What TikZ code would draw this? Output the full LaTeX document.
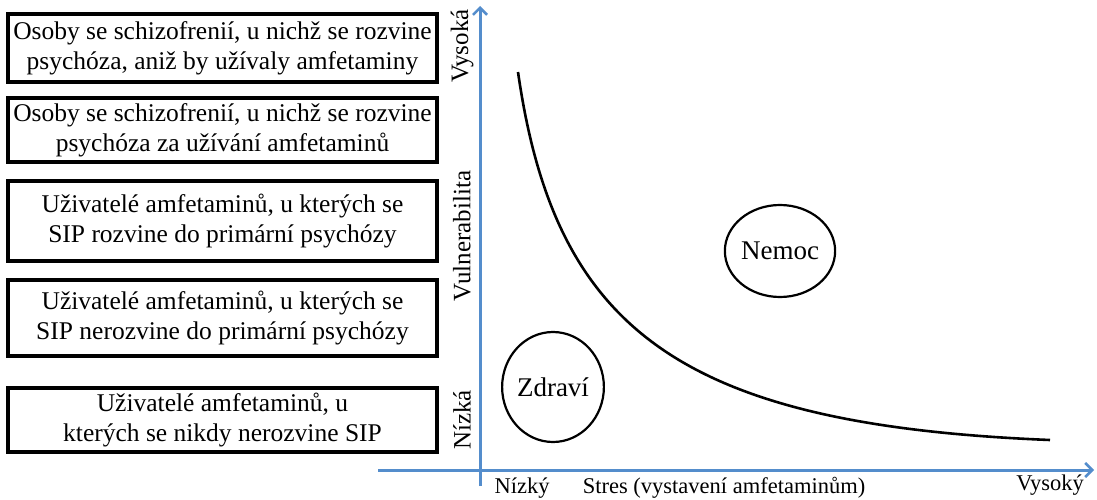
\documentclass[tikz,border=0pt]{standalone}
\usepackage{fontspec}
\setmainfont{Liberation Serif}
\usetikzlibrary{shapes.geometric,arrows.meta}
\definecolor{axisblue}{RGB}{84,141,204}
\tikzset{
  groupbox/.style={draw,line width=3.2pt,minimum width=429pt,align=center,inner sep=0pt,font=\fontsize{25.5}{30}\selectfont},
  region/.style={draw,ellipse,line width=2.2pt,inner sep=0pt,font=\fontsize{27}{30}\selectfont},
  axislbl/.style={font=\fontsize{22.5}{26}\selectfont},
  vertlbl/.style={rotate=90,font=\fontsize{25}{28}\selectfont},
  axisline/.style={draw=axisblue,line width=3pt,-{Straight Barb[length=7pt,width=14pt,line width=2.6pt]}}
}
\begin{document}
\begin{tikzpicture}[x=1pt,y=-1pt]
\useasboundingbox (0,0) rectangle (1097,500);
% groups on the left
\node[groupbox,minimum height=68pt] (grp1) at (222.5,48) {Osoby se schizofrenií, u nichž se rozvine\\psychóza, aniž by užívaly amfetaminy};
\node[groupbox,minimum height=64pt] (grp2) at (222.5,130) {Osoby se schizofrenií, u nichž se rozvine\\psychóza za užívání amfetaminů};
\node[groupbox,minimum height=80pt] (grp3) at (222.5,221) {Uživatelé amfetaminů, u kterých se\\SIP rozvine do primární psychózy};
\node[groupbox,minimum height=76pt] (grp4) at (222.5,318) {Uživatelé amfetaminů, u kterých se\\SIP nerozvine do primární psychózy};
\node[groupbox,minimum height=64pt] (grp5) at (222.5,420) {Uživatelé amfetaminů, u\\kterých se nikdy nerozvine SIP};

% axes
\coordinate (ybot) at (480,486);
\coordinate (ytop) at (480,6);
\coordinate (xleft) at (378,470);
\coordinate (xright) at (1094,470);
\draw[axisline] (ybot) -- (ytop);
\draw[axisline] (xleft) -- (xright);

\node[vertlbl] (vhigh) at (462,46) {Vysoká};
\node[vertlbl] (vmid) at (462,236) {Vulnerabilita};
\node[vertlbl] (vlow) at (462,420) {Nízká};
\node[axislbl] (slow) at (522,488) {Nízký};
\node[axislbl] (smid) at (724,488) {Stres (vystavení amfetaminům)};
\node[axislbl] (shigh) at (1050,485) {Vysoký};

% threshold curve
\coordinate (crvA) at (518,72);
\coordinate (crvB) at (1050,440);
\draw[line width=2.6pt] (crvA) .. controls (555,330) and (680,425) .. (crvB);

% regions
\node[region,minimum width=92pt,minimum height=92pt] (nemoc) at (780,251) {Nemoc};
\node[region,minimum width=96pt,minimum height=110pt] (zdravi) at (553,387) {Zdraví};
\end{tikzpicture}
\end{document}
